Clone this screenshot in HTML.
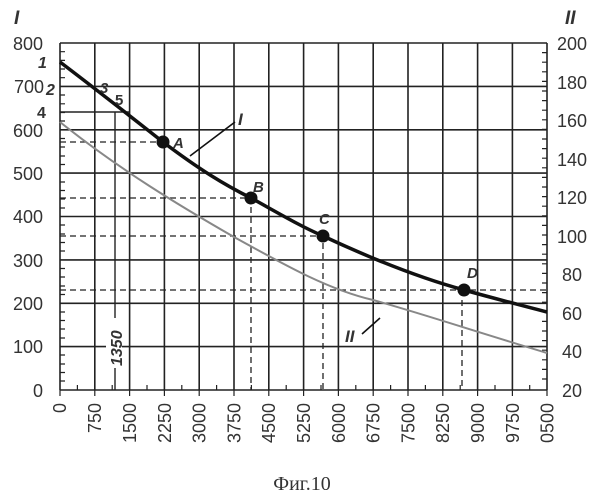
<!DOCTYPE html>
<html><head><meta charset="utf-8"><style>
body{margin:0;background:#fff}
svg{display:block}
text{font-family:"Liberation Sans",sans-serif;fill:#333}
</style></head><body>
<svg width="605" height="500" viewBox="0 0 605 500">
<g stroke="#222" stroke-width="1.6" fill="none">
<path d="M60,43V390M94.8,43V390M129.6,43V390M164.4,43V390M199.2,43V390M234,43V390M268.8,43V390M303.6,43V390M338.4,43V390M373.2,43V390M408,43V390M442.8,43V390M477.6,43V390M512.4,43V390M547,43V390"/>
<path d="M60,43H547M60,86.4H547M60,129.8H547M60,173.1H547M60,216.5H547M60,259.9H547M60,303.3H547M60,346.6H547M60,390H547"/>
<path d="M60,112H130M115,112V390" stroke-width="1.4"/>
</g>
<g stroke="#222" stroke-width="1.2">
<path d="M60,51.7h5M60,60.4h5M60,69h5M60,77.7h5M60,95h5M60,103.8h5M60,112.5h5M60,121h5M60,138.5h5M60,147h5M60,156h5M60,164.5h5M60,182h5M60,190.5h5M60,199h5M60,208h5M60,225h5M60,234h5M60,242.5h5M60,251h5M60,268.5h5M60,277h5M60,286h5M60,294.5h5M60,312h5M60,320.5h5M60,329h5M60,338h5M60,355h5M60,364h5M60,372.5h5M60,381h5"/>
<path d="M547,52.6h-5M547,62.2h-5M547,71.8h-5M547,81.4h-5M547,91h-5M547,100.6h-5M547,110.2h-5M547,119.8h-5M547,129.4h-5M547,139h-5M547,148.6h-5M547,158.2h-5M547,167.8h-5M547,177.4h-5M547,187h-5M547,196.6h-5M547,206.2h-5M547,215.8h-5M547,225.4h-5M547,235h-5M547,244.6h-5M547,254.2h-5M547,263.8h-5M547,273.4h-5M547,283h-5M547,292.6h-5M547,302.2h-5M547,311.8h-5M547,321.4h-5M547,331h-5M547,340.6h-5M547,350.2h-5M547,359.8h-5M547,369.4h-5M547,379h-5"/>
<path d="M77.4,390v-5M112.2,390v-5M147,390v-5M181.8,390v-5M216.6,390v-5M251.4,390v-5M286.2,390v-5M321,390v-5M355.8,390v-5M390.6,390v-5M425.4,390v-5M460.2,390v-5M495,390v-5M529.7,390v-5"/>
<path d="M60,390v6M94.8,390v6M129.6,390v6M164.4,390v6M199.2,390v6M234,390v6M268.8,390v6M303.6,390v6M338.4,390v6M373.2,390v6M408,390v6M442.8,390v6M477.6,390v6M512.4,390v6M547,390v6"/>
</g>
<g stroke="#222" stroke-width="1.3" stroke-dasharray="6,4" fill="none">
<path d="M60,142H163M60,198H251V390M60,236H323V390M60,290H547M462,290V390"/>
</g>
<path d="M60,122 C120,170 180,206 234,237 C290,268 330,290 373,300 C420,313 480,333 547,353" stroke="#888" stroke-width="2" fill="none"/>
<path d="M60,62 C110,100 140,124 163,142 C200,170 225,185 251,198 C280,214 300,226 323,236 C370,258 420,278 464,290 C500,300 520,305 547,312" stroke="#111" stroke-width="3.5" fill="none"/>
<g fill="#111">
<circle cx="163" cy="142" r="6.5"/><circle cx="251" cy="198" r="6.5"/><circle cx="323" cy="236" r="6.5"/><circle cx="464" cy="290" r="6.5"/>
</g>
<path d="M190,156L235,122M362,334L380,318" stroke="#111" stroke-width="1.6" fill="none"/>
<g font-style="italic" font-weight="bold" font-size="15" fill="#111">
<text x="173" y="148">A</text><text x="253" y="192">B</text><text x="319" y="224">C</text><text x="467" y="278">D</text>
<text x="238" y="125" font-size="17">I</text><text x="345" y="342" font-size="17">II</text>
<text x="14" y="24" font-size="19">I</text><text x="565" y="24" font-size="19">II</text>
<text x="38" y="68" font-size="16">1</text><text x="46" y="95" font-size="16">2</text><text x="100" y="93">3</text><text x="115" y="105" font-style="normal">5</text>
</g>
<text x="37" y="118" font-weight="bold" font-size="16" fill="#111">4</text>
<g font-size="18" text-anchor="end">
<text x="43" y="50">800</text><text x="44" y="93">700</text><text x="43" y="137">600</text><text x="43" y="180">500</text><text x="43" y="223">400</text><text x="43" y="267">300</text><text x="43" y="310">200</text><text x="43" y="353">100</text><text x="43" y="397">0</text>
</g>
<g font-size="18">
<text x="557" y="50">200</text><text x="557" y="89">180</text><text x="557" y="127">160</text><text x="557" y="166">140</text><text x="557" y="204">120</text><text x="557" y="243">100</text><text x="562" y="281">80</text><text x="562" y="320">60</text><text x="562" y="358">40</text><text x="562" y="397">20</text>
</g>
<rect x="106" y="318" width="16" height="50" fill="#fff"/>
<text transform="translate(122,366) rotate(-90)" font-size="16" font-weight="bold" font-style="italic" fill="#111">1350</text>
<g font-size="18" text-anchor="end">
<text transform="translate(66,403) rotate(-90)">0</text>
<text transform="translate(101,403) rotate(-90)">750</text>
<text transform="translate(136,403) rotate(-90)">1500</text>
<text transform="translate(171,403) rotate(-90)">2250</text>
<text transform="translate(205.5,403) rotate(-90)">3000</text>
<text transform="translate(240.5,403) rotate(-90)">3750</text>
<text transform="translate(275,403) rotate(-90)">4500</text>
<text transform="translate(310,403) rotate(-90)">5250</text>
<text transform="translate(345,403) rotate(-90)">6000</text>
<text transform="translate(379.5,403) rotate(-90)">6750</text>
<text transform="translate(414.5,403) rotate(-90)">7500</text>
<text transform="translate(449,403) rotate(-90)">8250</text>
<text transform="translate(484,403) rotate(-90)">9000</text>
<text transform="translate(519,403) rotate(-90)">9750</text>
<text transform="translate(553.5,403) rotate(-90)">0500</text>
</g>
<text x="302" y="490" text-anchor="middle" font-size="20" style="font-family:'Liberation Serif',serif" fill="#111">Фиг.10</text>
</svg>
</body></html>
